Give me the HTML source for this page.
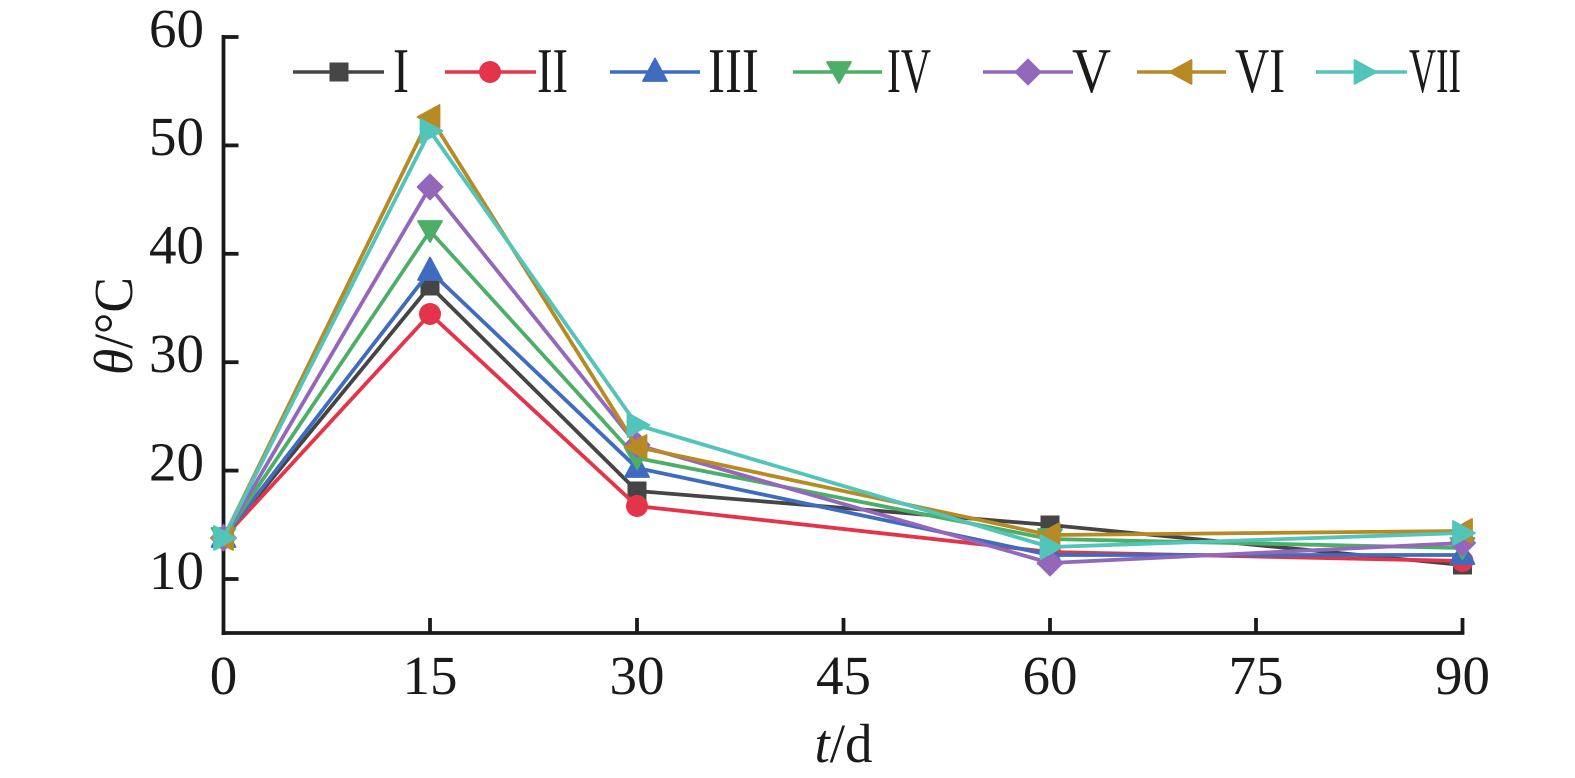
<!DOCTYPE html>
<html>
<head>
<meta charset="utf-8">
<style>
  html, body { margin: 0; padding: 0; background: #ffffff; }
  svg { display: block; }
  text { font-family: "Liberation Serif", "Noto Serif CJK SC", serif; fill: #1a1a1a; }
</style>
</head>
<body>
<svg width="1575" height="778" viewBox="0 0 1575 778" xmlns="http://www.w3.org/2000/svg">
  <defs>
    <rect id="mSq" x="-9.5" y="-9.5" width="19" height="19" fill="#454545"/>
    <circle id="mCi" cx="0" cy="0" r="11" fill="#e4344a"/>
    <polygon id="mUp" points="0,-13.5 12,9 -12,9" fill="#3f6cbf" stroke="#3f6cbf" stroke-width="1.8" stroke-linejoin="round"/>
    <polygon id="mDn" points="0,11 12,-10 -12,-10" fill="#4dae68" stroke="#4dae68" stroke-width="1.8" stroke-linejoin="round"/>
    <polygon id="mDi" points="0,-12.5 12.5,0 0,12.5 -12.5,0" fill="#9368bb" stroke="#9368bb" stroke-width="1.8" stroke-linejoin="round"/>
    <polygon id="mLf" points="-12.5,0 9.5,-12 9.5,12" fill="#b78a23" stroke="#b78a23" stroke-width="1.8" stroke-linejoin="round"/>
    <polygon id="mRt" points="12.5,0 -9.5,-12 -9.5,12" fill="#52c4b9" stroke="#52c4b9" stroke-width="1.8" stroke-linejoin="round"/>
  </defs>

  <!-- Axes -->
  <g stroke="#1a1a1a" stroke-width="3.8" fill="none">
    <line x1="223.5" y1="35" x2="223.5" y2="635"/>
    <line x1="221.6" y1="633" x2="1464.4" y2="633"/>
    <!-- y ticks -->
    <line x1="223.5" y1="37" x2="238.5" y2="37"/>
    <line x1="223.5" y1="145.4" x2="238.5" y2="145.4"/>
    <line x1="223.5" y1="253.8" x2="238.5" y2="253.8"/>
    <line x1="223.5" y1="362.2" x2="238.5" y2="362.2"/>
    <line x1="223.5" y1="470.6" x2="238.5" y2="470.6"/>
    <line x1="223.5" y1="579" x2="238.5" y2="579"/>
    <!-- x ticks -->
    <line x1="430" y1="633" x2="430" y2="618"/>
    <line x1="637" y1="633" x2="637" y2="618"/>
    <line x1="843.5" y1="633" x2="843.5" y2="618"/>
    <line x1="1050" y1="633" x2="1050" y2="618"/>
    <line x1="1256" y1="633" x2="1256" y2="618"/>
    <line x1="1462.5" y1="633" x2="1462.5" y2="618"/>
  </g>

  <!-- Y tick labels -->
  <g font-size="55" text-anchor="end">
    <text x="204" y="47">60</text>
    <text x="204" y="155">50</text>
    <text x="204" y="263.5">40</text>
    <text x="204" y="372">30</text>
    <text x="204" y="480.5">20</text>
    <text x="204" y="589">10</text>
  </g>
  <!-- X tick labels -->
  <g font-size="55" text-anchor="middle">
    <text x="223.5" y="694">0</text>
    <text x="430" y="694">15</text>
    <text x="637" y="694">30</text>
    <text x="843.5" y="694">45</text>
    <text x="1050" y="694">60</text>
    <text x="1256" y="694">75</text>
    <text x="1462.5" y="694">90</text>
  </g>

  <!-- Axis titles -->
  <text x="843.5" y="762" font-size="55" text-anchor="middle"><tspan font-style="italic">t</tspan>/d</text>
  <text transform="translate(132,326) rotate(-90)" font-size="55" text-anchor="middle" textLength="98" lengthAdjust="spacingAndGlyphs"><tspan font-style="italic">θ</tspan>/°C</text>

  <!-- Series -->
  <g fill="none" stroke-width="3.8" stroke-linejoin="round">
    <!-- I -->
    <polyline stroke="#454545" points="223.5,538 430,286 637,491 1050,525 1462.5,565"/>
    <g>
      <use href="#mSq" x="223.5" y="538"/><use href="#mSq" x="430" y="286"/><use href="#mSq" x="637" y="491"/><use href="#mSq" x="1050" y="525"/><use href="#mSq" x="1462.5" y="565"/>
    </g>
    <!-- II -->
    <polyline stroke="#e4344a" points="223.5,538 430,314 637,506 1050,552 1462.5,561"/>
    <g>
      <use href="#mCi" x="223.5" y="538"/><use href="#mCi" x="430" y="314"/><use href="#mCi" x="637" y="506"/><use href="#mCi" x="1050" y="552"/><use href="#mCi" x="1462.5" y="561"/>
    </g>
    <!-- III -->
    <polyline stroke="#3f6cbf" points="223.5,538 430,271 637,468 1050,555 1462.5,555"/>
    <g>
      <use href="#mUp" x="223.5" y="538"/><use href="#mUp" x="430" y="271"/><use href="#mUp" x="637" y="468"/><use href="#mUp" x="1050" y="555"/><use href="#mUp" x="1462.5" y="555"/>
    </g>
    <!-- IV -->
    <polyline stroke="#4dae68" points="223.5,538 430,231 637,458 1050,539 1462.5,548"/>
    <g>
      <use href="#mDn" x="223.5" y="538"/><use href="#mDn" x="430" y="231"/><use href="#mDn" x="637" y="458"/><use href="#mDn" x="1050" y="539"/><use href="#mDn" x="1462.5" y="548"/>
    </g>
    <!-- V -->
    <polyline stroke="#9368bb" points="223.5,538 430,187 637,445 1050,563 1462.5,543"/>
    <g>
      <use href="#mDi" x="223.5" y="538"/><use href="#mDi" x="430" y="187"/><use href="#mDi" x="637" y="445"/><use href="#mDi" x="1050" y="563"/><use href="#mDi" x="1462.5" y="543"/>
    </g>
    <!-- VI -->
    <polyline stroke="#b78a23" points="223.5,538 430,117 637,447 1050,535 1462.5,531"/>
    <g>
      <use href="#mLf" x="223.5" y="538"/><use href="#mLf" x="430" y="117"/><use href="#mLf" x="637" y="447"/><use href="#mLf" x="1050" y="535"/><use href="#mLf" x="1462.5" y="531"/>
    </g>
    <!-- VII -->
    <polyline stroke="#52c4b9" points="223.5,538 430,131 637,425 1050,547 1462.5,533"/>
    <g>
      <use href="#mRt" x="223.5" y="538"/><use href="#mRt" x="430" y="131"/><use href="#mRt" x="637" y="425"/><use href="#mRt" x="1050" y="547"/><use href="#mRt" x="1462.5" y="533"/>
    </g>
  </g>

  <!-- Legend -->
  <g stroke-width="3.6">
    <line x1="293" y1="72" x2="384" y2="72" stroke="#454545"/>
    <line x1="445" y1="72" x2="536" y2="72" stroke="#e4344a"/>
    <line x1="610" y1="72" x2="700" y2="72" stroke="#3f6cbf"/>
    <line x1="793" y1="72" x2="882" y2="72" stroke="#4dae68"/>
    <line x1="983" y1="72" x2="1073" y2="72" stroke="#9368bb"/>
    <line x1="1137" y1="72" x2="1226" y2="72" stroke="#b78a23"/>
    <line x1="1316" y1="72" x2="1407" y2="72" stroke="#52c4b9"/>
  </g>
  <use href="#mSq" x="339" y="72"/>
  <use href="#mCi" x="490" y="72"/>
  <use href="#mUp" x="655" y="72"/>
  <use href="#mDn" x="839" y="72"/>
  <use href="#mDi" x="1028" y="72"/>
  <use href="#mLf" x="1182" y="72"/>
  <use href="#mRt" x="1364" y="72"/>
  <g font-size="63">
    <text x="393" y="92" textLength="16" lengthAdjust="spacingAndGlyphs">I</text>
    <text x="537" y="92" textLength="31" lengthAdjust="spacingAndGlyphs">II</text>
    <text x="708" y="92" textLength="51" lengthAdjust="spacingAndGlyphs">III</text>
    <text x="887" y="92" textLength="44" lengthAdjust="spacingAndGlyphs">IV</text>
    <text x="1072" y="92" textLength="39" lengthAdjust="spacingAndGlyphs">V</text>
    <text x="1235" y="92" textLength="50" lengthAdjust="spacingAndGlyphs">VI</text>
    <text x="1409" y="92" textLength="52" lengthAdjust="spacingAndGlyphs">VII</text>
  </g>
</svg>
</body>
</html>
